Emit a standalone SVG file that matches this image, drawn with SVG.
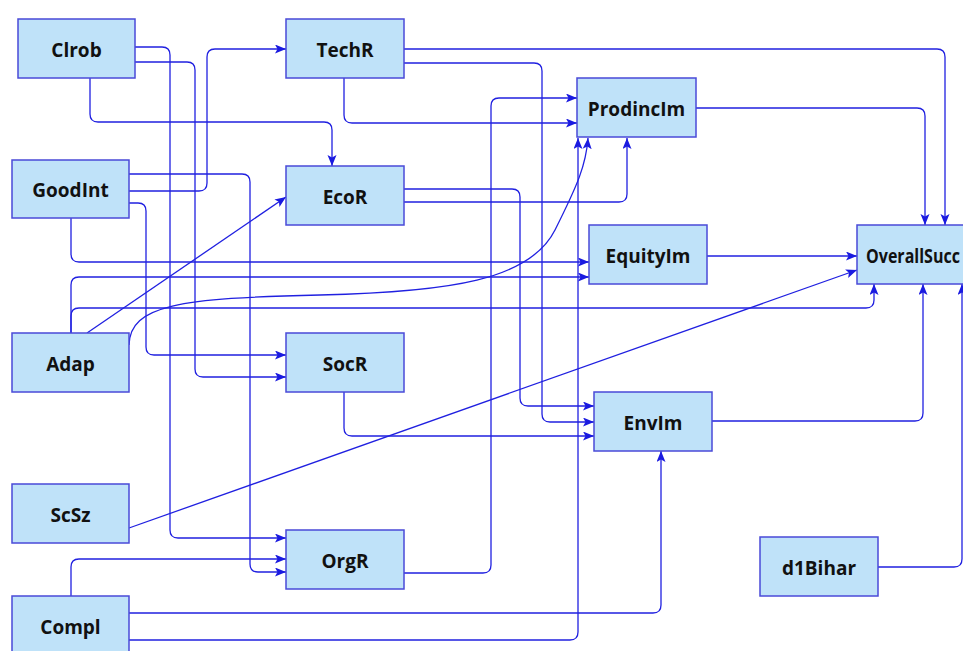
<svg xmlns="http://www.w3.org/2000/svg" width="963" height="651" viewBox="0 0 963 651">
<style>
.box{fill:#bfe2f9;stroke:#4a4ad8;stroke-width:1.5}
.lbl{font-family:"Open Sans","Noto Sans",sans-serif;font-weight:bold;font-size:19px;fill:#111;text-anchor:middle}
.c{fill:none;stroke:#2020e0;stroke-width:1.3;marker-end:url(#ah)}
</style>
<defs>
<marker id="ah" markerUnits="userSpaceOnUse" markerWidth="12" markerHeight="10" refX="11" refY="4.5" orient="auto">
<path d="M0,0 L11,4.5 L0,9 L2.5,4.5 z" fill="#1a1ae0"/>
</marker>
</defs>
<rect width="963" height="651" fill="#fff"/>
<g id="connectors">
<path class="c" d="M135,47 H162 q8,0 8,8 V530 q0,8 8,8 H286"/>
<path class="c" d="M135,62 H187 q8,0 8,8 V369 q0,8 8,8 H286"/>
<path class="c" d="M90,78 V114 q0,8 8,8 H324 q8,0 8,8 V166"/>
<path class="c" d="M129,174 H242 q8,0 8,8 V564 q0,8 8,8 H286"/>
<path class="c" d="M129,191 H199 q8,0 8,-8 V57 q0,-8 8,-8 H286"/>
<path class="c" d="M129,203 H138 q8,0 8,8 V347 q0,8 8,8 H286"/>
<path class="c" d="M71,218 V254 q0,8 8,8 H589"/>
<path class="c" d="M71,333 V285 q0,-8 8,-8 H589"/>
<path class="c" d="M71,333 V316 q0,-8 8,-8 H866 q8,0 8,-8 V284"/>
<path class="c" d="M87,333 L286,197"/>
<path class="c" d="M129,345 C130,305 180,298 320,295 C450,292 530,280 555,230 C578,184 586,165 588,138"/>
<path class="c" d="M129,528 L857,270"/>
<path class="c" d="M71,596 V567 q0,-8 8,-8 H286"/>
<path class="c" d="M129,613 H653 q8,0 8,-8 V451"/>
<path class="c" d="M129,640 H570 q8,0 8,-8 V138"/>
<path class="c" d="M404,49 H937 q8,0 8,8 V225"/>
<path class="c" d="M404,63 H534 q8,0 8,8 V414 q0,8 8,8 H594"/>
<path class="c" d="M344,78 V115 q0,8 8,8 H577"/>
<path class="c" d="M404,189 H512 q8,0 8,8 V398 q0,8 8,8 H594"/>
<path class="c" d="M404,202 H619 q8,0 8,-8 V138"/>
<path class="c" d="M344,392 V428 q0,8 8,8 H594"/>
<path class="c" d="M404,573 H483 q8,0 8,-8 V106 q0,-8 8,-8 H577"/>
<path class="c" d="M696,108 H917 q8,0 8,8 V225"/>
<path class="c" d="M707,256 H857"/>
<path class="c" d="M712,421 H915 q8,0 8,-8 V284"/>
<path class="c" d="M878,567 H954 q8,0 8,-8 V284"/>
</g>
<g id="Clrob"><rect class="box" x="18" y="19" width="117" height="59"/><text class="lbl" x="76.5" y="57">Clrob</text></g>
<g id="GoodInt"><rect class="box" x="12" y="160" width="117" height="58"/><text class="lbl" x="70.5" y="197">GoodInt</text></g>
<g id="Adap"><rect class="box" x="12" y="333" width="117" height="59"/><text class="lbl" x="70.5" y="371">Adap</text></g>
<g id="ScSz"><rect class="box" x="12" y="484" width="117" height="59"/><text class="lbl" x="70.5" y="522">ScSz</text></g>
<g id="Compl"><rect class="box" x="12" y="596" width="117" height="59"/><text class="lbl" x="70.5" y="634">Compl</text></g>
<g id="TechR"><rect class="box" x="286" y="19" width="118" height="59"/><text class="lbl" x="345" y="57">TechR</text></g>
<g id="EcoR"><rect class="box" x="286" y="166" width="118" height="59"/><text class="lbl" x="345" y="204">EcoR</text></g>
<g id="SocR"><rect class="box" x="286" y="333" width="118" height="59"/><text class="lbl" x="345" y="371">SocR</text></g>
<g id="OrgR"><rect class="box" x="286" y="530" width="118" height="59"/><text class="lbl" x="345" y="568">OrgR</text></g>
<g id="ProdincIm"><rect class="box" x="577" y="78" width="119" height="59"/><text class="lbl" x="636.5" y="116">ProdincIm</text></g>
<g id="EquityIm"><rect class="box" x="589" y="225" width="118" height="59"/><text class="lbl" x="648" y="263">EquityIm</text></g>
<g id="EnvIm"><rect class="box" x="594" y="392" width="118" height="59"/><text class="lbl" x="653" y="430">EnvIm</text></g>
<g id="OverallSucc"><rect class="box" x="857" y="225" width="118" height="59"/><text class="lbl" x="866" y="263" style="text-anchor:start" textLength="94" lengthAdjust="spacingAndGlyphs">OverallSucc</text></g>
<g id="d1Bihar"><rect class="box" x="760" y="537" width="118" height="59"/><text class="lbl" x="819" y="575">d1Bihar</text></g>
</svg>
